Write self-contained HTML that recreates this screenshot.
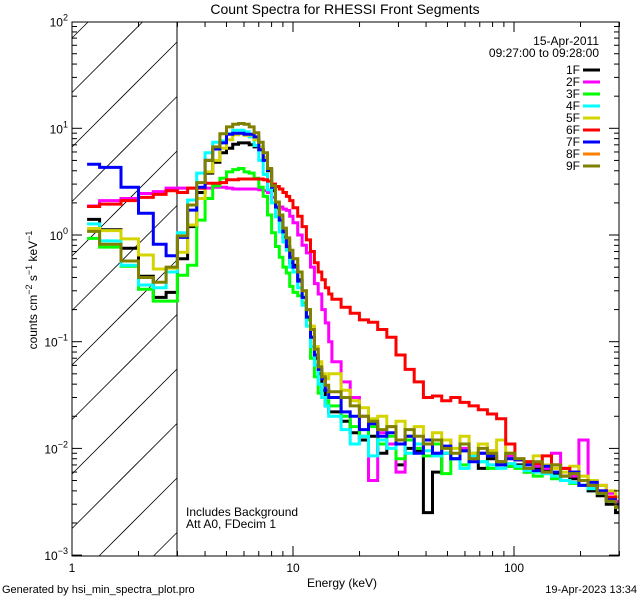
<!DOCTYPE html>
<html><head><meta charset="utf-8"><style>
html,body{margin:0;padding:0;background:#fff;width:640px;height:600px;overflow:hidden;}
svg{display:block;font-family:"Liberation Sans",sans-serif;}
</style></head><body>
<svg id="chart" width="640" height="600" viewBox="0 0 640 600">
<rect x="0" y="0" width="640" height="600" fill="#fff"/>
<defs><clipPath id="plotclip"><rect x="72" y="22" width="547" height="534"/></clipPath></defs>
<text x="345" y="14" font-size="14" text-anchor="middle">Count Spectra for RHESSI Front Segments</text>
<g id="hatch"></g>
<line x1="177" y1="22" x2="177" y2="556" stroke="#000" stroke-width="1"/>
<g id="series" clip-path="url(#plotclip)"></g>
<rect x="72" y="22" width="547" height="534" fill="none" stroke="#000" stroke-width="1"/>
<g id="axes"></g>
<text transform="translate(37,290) rotate(-90)" font-size="12" text-anchor="middle">counts cm<tspan font-size="9" dy="-5">−2</tspan><tspan dy="5"> s</tspan><tspan font-size="9" dy="-5">−1</tspan><tspan dy="5"> keV</tspan><tspan font-size="9" dy="-5">−1</tspan></text>
<text x="342" y="587" font-size="12" text-anchor="middle">Energy (keV)</text>
<text x="2" y="593" font-size="11">Generated by hsi_min_spectra_plot.pro</text>
<text x="637" y="593" font-size="11" text-anchor="end">19-Apr-2023 13:34</text>
<text x="186" y="516" font-size="12">Includes Background</text>
<text x="186" y="528" font-size="12">Att A0, FDecim 1</text>
<text x="599" y="45" font-size="12" text-anchor="end">15-Apr-2011</text>
<text x="599" y="57" font-size="12" text-anchor="end">09:27:00 to 09:28:00</text>
<g id="legend"></g>
</svg>
<script>
const seriesNames = ["1F","2F","3F","4F","5F","6F","7F","8F","9F"];
const seriesColors = ["#000000","#ff00ff","#00ff00","#00ffff","#d4d400","#ff0000","#0000ff","#ff8000","#808000"];
const yTickLabels = ["2","1","0","-1","-2","-3"];
const xTickLabels = ["1","10","100"];
const s1F = [1.4,1.12,0.75,0.41,0.26,0.29, 0.6,1.2,2.5,3.8,4.8,5.9,6.5,7.1,7.3,7.3,7.0,6.7,6.3,5.3,4.0,2.6,1.8,1.38,0.96,0.76,0.55,
 0.52,0.38,0.26,0.17,0.11,0.07,0.05,0.035,0.025,0.022,
 0.022,0.018,0.014,0.012,0.013,0.009,0.011,0.007,0.010,0.0095,0.0025,0.006,0.009,0.008,0.0095,0.008,0.0065,0.008,0.0075,0.0068,0.007,0.006,0.0065,0.0062,0.0058,0.005,0.0052,0.0045,0.004,0.0036,0.003,0.0025];
const s2F = [1.87,2.1,2.2,2.45,2.55,2.75, 2.75,2.75,2.75,2.75,2.8,2.8,2.75,2.7,2.7,2.7,2.7,2.7,2.65,2.6,2.5,2.25,2.0,1.83,1.75,1.7,1.5,
 1.3,1.0,0.8,0.68,0.5,0.35,0.28,0.2,0.15,0.1,
 0.065,0.042,0.03,0.02,0.005,0.014,0.011,0.006,0.013,0.010,0.011,0.009,0.012,0.008,0.010,0.0085,0.009,0.0095,0.007,0.0085,0.008,0.0075,0.0068,0.0065,0.009,0.0065,0.0055,0.012,0.005,0.0045,0.0038,0.0032];
const s3F = [0.93,0.77,0.51,0.31,0.24,0.24, 0.42,0.52,1.38,2.2,2.9,3.4,3.9,4.1,4.2,3.9,3.8,3.4,2.8,2.3,1.54,1.05,0.78,0.62,0.5,0.44,0.33,
 0.29,0.27,0.23,0.16,0.07,0.047,0.033,0.03,0.028,0.025,
 0.025,0.02,0.016,0.013,0.016,0.011,0.013,0.008,0.012,0.010,0.0085,0.011,0.0058,0.008,0.007,0.009,0.0075,0.0065,0.007,0.0068,0.0065,0.006,0.0055,0.0058,0.0052,0.005,0.0047,0.0045,0.0042,0.0038,0.0033,0.0028];
const s4F = [1.27,0.88,0.52,0.34,0.32,0.45, 1.05,2.13,3.8,5.9,7.4,7.6,8.9,9.6,9.6,9.3,8.3,6.9,5.0,3.7,2.65,2.0,1.48,1.07,0.86,0.72,0.5,
 0.45,0.32,0.22,0.14,0.09,0.06,0.04,0.03,0.025,0.02,
 0.02,0.015,0.011,0.013,0.0085,0.012,0.010,0.012,0.009,0.011,0.0095,0.0085,0.009,0.008,0.0065,0.0085,0.0075,0.007,0.0065,0.0072,0.0068,0.0062,0.006,0.0058,0.0055,0.005,0.0048,0.0045,0.0042,0.0038,0.0032,0.0028];
const s5F = [1.15,1.1,0.92,0.65,0.48,0.49, 0.69,1.24,2.2,3.9,5.0,6.5,7.8,8.7,8.9,8.6,8.6,7.8,6.7,5.3,4.1,2.9,2.0,1.5,1.12,0.9,0.68,
 0.6,0.45,0.3,0.2,0.14,0.09,0.065,0.05,0.045,0.05,
 0.05,0.035,0.028,0.024,0.019,0.02,0.016,0.018,0.013,0.016,0.011,0.014,0.012,0.010,0.013,0.009,0.011,0.0095,0.012,0.009,0.008,0.0075,0.0085,0.007,0.0065,0.006,0.0068,0.0055,0.005,0.0045,0.004,0.0035];
const s6F = [1.85,1.95,2.1,2.25,2.4,2.6, 2.5,2.75,2.75,3.05,3.05,3.1,3.3,3.3,3.35,3.35,3.35,3.35,3.35,3.3,3.2,3.0,2.85,2.7,2.5,2.3,2.1,
 1.8,1.5,1.2,0.9,0.7,0.55,0.45,0.38,0.32,0.28,
 0.25,0.21,0.185,0.16,0.152,0.13,0.11,0.075,0.055,0.042,0.03,0.031,0.028,0.03,0.027,0.025,0.023,0.021,0.019,0.011,0.0078,0.0075,0.0072,0.0085,0.007,0.0065,0.006,0.005,0.0045,0.004,0.0035,0.003];
const s7F = [4.6,4.3,2.8,1.6,0.82,0.64, 0.95,1.71,2.8,5.0,6.4,7.3,8.8,9.0,9.0,8.8,8.8,8.3,6.3,5.0,4.1,2.8,1.83,1.38,1.07,0.78,0.62,
 0.5,0.37,0.26,0.17,0.11,0.075,0.055,0.045,0.035,0.03,
 0.03,0.022,0.02,0.015,0.017,0.013,0.014,0.011,0.013,0.009,0.012,0.009,0.0105,0.008,0.0095,0.0075,0.009,0.0085,0.007,0.008,0.0078,0.007,0.0062,0.0068,0.006,0.0055,0.006,0.0045,0.0048,0.004,0.0033,0.003];
const s8F = [];
const s9F = [1.08,0.82,0.57,0.4,0.36,0.5, 0.98,1.91,3.1,5.0,6.7,8.9,10.3,10.9,11.1,10.9,10.3,9.1,7.4,5.9,4.2,2.9,2.04,1.54,1.16,0.94,0.72,
 0.6,0.45,0.3,0.2,0.13,0.085,0.058,0.047,0.039,0.034,
 0.034,0.03,0.025,0.02,0.018,0.015,0.016,0.012,0.015,0.013,0.011,0.012,0.010,0.009,0.011,0.008,0.010,0.009,0.0075,0.009,0.008,0.0065,0.0075,0.006,0.007,0.0055,0.0058,0.005,0.0045,0.0038,0.0032,0.0028];
const seriesData = [s1F,s2F,s3F,s4F,s5F,s6F,s7F,s8F,s9F];

const edges = [1.17];
for (let k=4;k<=30;k++) edges.push(k/3);
for (let k=1;k<=10;k++) edges.push(10+0.5*k);
for (let k=1;k<=31;k++) edges.push(15*Math.pow(1.1,k));
edges.push(300);

const X0=72, XDEC=221, Y0=235, YDEC=106.7;
function xs(e){return X0+XDEC*Math.log10(e);}
function ys(v){return Y0-YDEC*Math.log10(v);}
const NS="http://www.w3.org/2000/svg";
function mk(tag,attrs,parent){const el=document.createElementNS(NS,tag);for(const k in attrs)el.setAttribute(k,attrs[k]);parent.appendChild(el);return el;}

const hatch=document.getElementById('hatch');
for(let k=-2;k<16;k++){
  const c=583-54.5*k;
  const xa=Math.max(72,72+c-556), xb=Math.min(177,72+c-22);
  if(xa>=xb) continue;
  const ln=mk('line',{x1:xa,y1:c-(xa-72),x2:xb,y2:c-(xb-72),stroke:'#000','stroke-width':0.8},hatch);
  
  
}

const sg=document.getElementById('series');
seriesData.forEach((vals,si)=>{
  if(!vals.length) return;
  let d='';
  for(let i=0;i<vals.length && i+1<edges.length;i++){
    const xa=xs(edges[i]).toFixed(1), xb=xs(edges[i+1]).toFixed(1), y=ys(vals[i]).toFixed(1);
    d+=(i===0?'M':'L')+xa+','+y+'L'+xb+','+y;
  }
  const p=mk('path',{d:d,fill:'none',stroke:seriesColors[si],'stroke-width':3,'stroke-linejoin':'miter'},sg);
  
  
});

const ax=document.getElementById('axes');
for(let dec=0;dec<3;dec++){
  for(let m=1;m<=9;m++){
    const e=m*Math.pow(10,dec); if(e>300) break;
    const x=xs(e), L=(m===1)?10:5;
    mk('line',{x1:x,y1:556,x2:x,y2:556-L,stroke:'#000'},ax);
    mk('line',{x1:x,y1:22,x2:x,y2:22+L,stroke:'#000'},ax);
  }
}
xTickLabels.forEach((lab,i)=>{
  const t=mk('text',{x:xs(Math.pow(10,i)),y:572,'font-size':12,'text-anchor':'middle'},ax);
  t.textContent=lab;
  
  
});
for(let p=-3;p<2;p++){
  for(let m=1;m<=9;m++){
    const v=m*Math.pow(10,p), y=ys(v), L=(m===1)?10:5;
    mk('line',{x1:72,y1:y,x2:72+L,y2:y,stroke:'#000'},ax);
    mk('line',{x1:619,y1:y,x2:619-L,y2:y,stroke:'#000'},ax);
  }
}
yTickLabels.forEach((lab)=>{
  const p=parseInt(lab,10), y=ys(Math.pow(10,p));
  const t=mk('text',{x:68,y:y+5,'font-size':12,'text-anchor':'end'},ax);
  t.innerHTML='10<tspan font-size="9" dy="-6">'+lab.replace('-','−')+'</tspan>';
  
  
});

const lg=document.getElementById('legend');
seriesNames.forEach((n,i)=>{
  const y=70+12*i;
  const t=mk('text',{x:580,y:y+4,'font-size':12,'text-anchor':'end'},lg);
  t.textContent=n;
  
  
  const l=mk('line',{x1:583,y1:y,x2:600,y2:y,stroke:seriesColors[i],'stroke-width':3},lg);
  
  
});
</script>
</body></html>
